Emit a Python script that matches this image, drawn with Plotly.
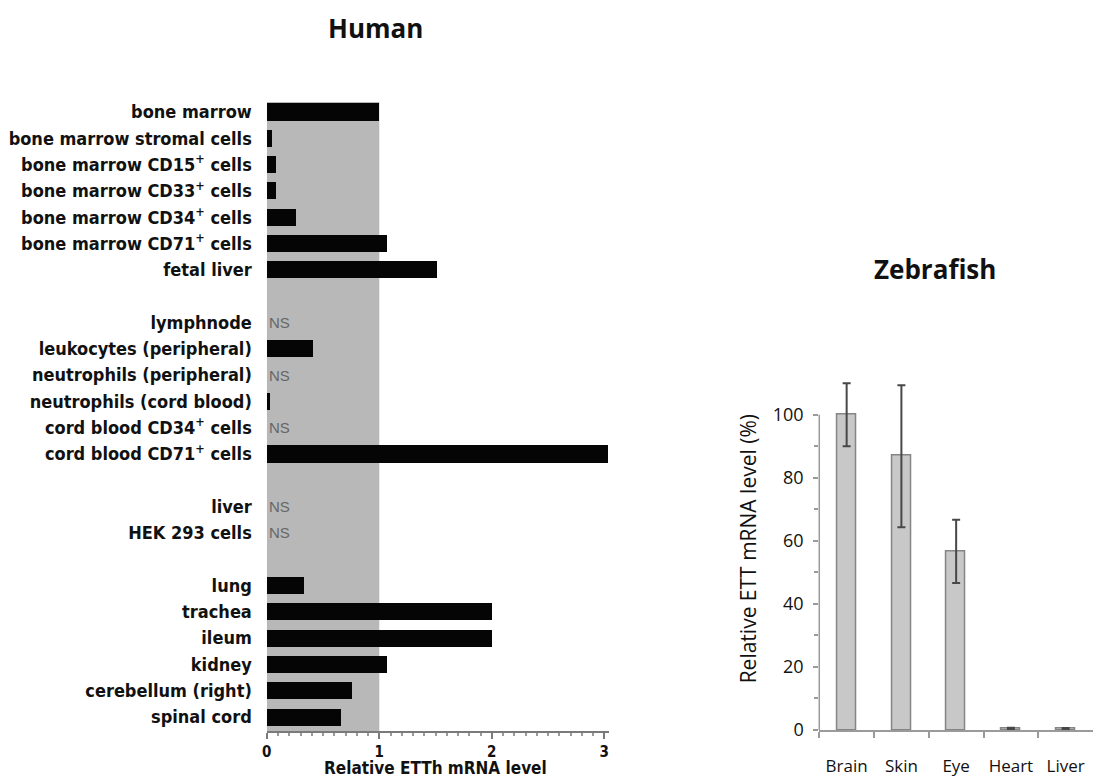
import plotly.graph_objects as go

# ---- Human tissue panel -------------------------------------------------
human_tissues = [
    "bone marrow",
    "bone marrow stromal cells",
    "bone marrow CD15<sup>+</sup> cells",
    "bone marrow CD33<sup>+</sup> cells",
    "bone marrow CD34<sup>+</sup> cells",
    "bone marrow CD71<sup>+</sup> cells",
    "fetal liver",
    "lymphnode",
    "leukocytes (peripheral)",
    "neutrophils (peripheral)",
    "neutrophils (cord blood)",
    "cord blood CD34<sup>+</sup> cells",
    "cord blood CD71<sup>+</sup> cells",
    "liver",
    "HEK 293 cells",
    "lung",
    "trachea",
    "ileum",
    "kidney",
    "cerebellum (right)",
    "spinal cord",
]
# None = not significant (labelled "NS")
human_levels = [
    1.00, 0.04, 0.08, 0.08, 0.26, 1.07, 1.51,
    None, 0.41, None, 0.03, None, 3.03,
    None, None,
    0.33, 2.00, 2.00, 1.07, 0.76, 0.66,
]
group_sizes = [7, 6, 2, 6]
human_xticks = [0, 1, 2, 3]

# ---- Zebrafish panel ----------------------------------------------------
fish_tissues = ["Brain", "Skin", "Eye", "Heart", "Liver"]
fish_levels = [100.0, 87.0, 56.7, 0.5, 0.4]
fish_err_plus = [10.0, 22.3, 10.0, 0.2, 0.2]
fish_err_minus = [10.0, 22.7, 10.1, 0.2, 0.2]
fish_yticks = [0, 20, 40, 60, 80, 100]

# row slots: one empty slot between groups
slots = []
pos = 0
for size in group_sizes:
    for _ in range(size):
        slots.append(pos)
        pos += 1
    pos += 1

# layout positions are given on a 1099 x 778 grid and converted to fractions
GRID_W, GRID_H = 1099, 778
W, H = 1099, 790

def fx(px):
    return px / GRID_W

def fy(py):
    return 1 - py / GRID_H

def px_x(a, b):
    return [fx(a), fx(b)]

def px_y(top, bottom):
    return [fy(bottom), fy(top)]

COND = "Liberation Sans Narrow, DejaVu Sans Condensed, Arial Narrow, sans-serif"
SANS = "Open Sans, Lato, sans-serif"

# human x axis: 113 px per unit starting at x=263
HX_MAX = 3.04

fig = go.Figure()

bar_y = [s for s, v in zip(slots, human_levels) if v is not None]
bar_x = [v for v in human_levels if v is not None]
fig.add_trace(go.Bar(
    x=bar_x, y=bar_y, orientation="h",
    marker=dict(color="#050505", line=dict(width=0)),
    width=0.65, xaxis="x", yaxis="y", showlegend=False,
    hoverinfo="x",
))

fig.add_trace(go.Bar(
    x=fish_tissues, y=fish_levels,
    marker=dict(color="#c8c8c8", line=dict(color="#858585", width=1.5)),
    width=0.35,
    error_y=dict(type="data", symmetric=False, array=fish_err_plus,
                 arrayminus=fish_err_minus, color="#474747",
                 thickness=2, width=4),
    xaxis="x2", yaxis="y2", showlegend=False,
))

annotations = []
for s, v in zip(slots, human_levels):
    if v is None:
        annotations.append(dict(
            x=0, y=s, xref="x", yref="y", text="NS", showarrow=False,
            xanchor="left", yanchor="middle", xshift=0,
            font=dict(family="Liberation Sans, Arial, sans-serif", size=15, color="#666666"),
        ))

annotations += [
    dict(x=fx(372), y=fy(27), xref="paper", yref="paper", text="<b>Human</b>",
         showarrow=False, xanchor="center", yanchor="middle",
         font=dict(family=SANS, size=26, color="#111111")),
    dict(x=fx(934), y=fy(268), xref="paper", yref="paper", text="<b>Zebrafish</b>",
         showarrow=False, xanchor="center", yanchor="middle",
         font=dict(family=SANS, size=26, color="#111111")),
    # x-axis title of the human panel
    dict(x=fx(432), y=fy(767), xref="paper", yref="paper",
         text="<b>Relative ETTh mRNA level</b>", showarrow=False,
         xanchor="center", yanchor="middle", borderpad=0,
         font=dict(family=COND, size=17, color="#111111")),
]

shapes = [
    # shaded reference region 0..1 behind the human bars
    dict(type="rect", xref="x", yref="y domain", x0=0, x1=1, y0=0, y1=1,
         fillcolor="#b8b8b8", line=dict(width=0), layer="below"),
    # zebrafish y axis line, drawn up to 100 only
    dict(type="line", xref="x2 domain", yref="y2", x0=0, x1=0, y0=0, y1=100,
         line=dict(color="#9a9a9a", width=1.5)),
]

fig.update_layout(
    width=W, height=H,
    margin=dict(l=0, r=0, t=0, b=0),
    paper_bgcolor="white", plot_bgcolor="rgba(0,0,0,0)",
    bargap=0,
    annotations=annotations,
    shapes=shapes,
    xaxis=dict(
        domain=px_x(263, 263 + 113 * HX_MAX), anchor="y", range=[0, HX_MAX],
        tickvals=human_xticks, ticktext=[f"<b>{v}</b>" for v in human_xticks],
        ticks="outside", ticklen=6, tickwidth=1.5,
        tickcolor="#7a7a7a", showline=True, linecolor="#7a7a7a", linewidth=1.5,
        showgrid=False, zeroline=False,
        minor=dict(dtick=0.1, ticks="outside", ticklen=3, tickcolor="#9a9a9a", showgrid=False),
        tickfont=dict(family=COND, size=15, color="#111111"),
    ),
    yaxis=dict(
        domain=px_y(101, 730), anchor="x", range=[23.53, -0.38],
        tickvals=slots, ticktext=[f"<b>{t}</b>" for t in human_tissues],
        ticks="", showline=False, showgrid=False, zeroline=False,
        ticklabelstandoff=14,
        tickfont=dict(family=COND, size=18, color="#111111"),
    ),
    xaxis2=dict(
        domain=px_x(818, 1093), anchor="y2", range=[-0.5, 4.5],
        showline=True, linecolor="#9a9a9a", linewidth=1.5,
        ticks="outside", showgrid=False, zeroline=False,
        tickson="boundaries", ticklen=6, tickwidth=1.5, tickcolor="#9a9a9a",
        tickangle=0, ticklabelstandoff=20,
        tickfont=dict(family=SANS, size=17, color="#111111"),
    ),
    yaxis2=dict(
        domain=px_y(366.4, 729), anchor="x2", range=[0, 115],
        tickvals=fish_yticks, ticks="outside", ticklen=5,
        tickwidth=1.5, tickcolor="#9a9a9a",
        minor=dict(tickvals=[10, 30, 50, 70, 90], ticks="outside", ticklen=4,
                   tickcolor="#9a9a9a"),
        showline=False, showgrid=False, zeroline=False,
        ticklabelstandoff=6,
        tickfont=dict(family=SANS, size=18, color="#111111"),
        title=dict(text="Relative ETT mRNA level (%)", standoff=10,
                   font=dict(family=SANS, size=21, color="#111111")),
    ),
)

# let the figure sit flush against the page edges
fig.write_html(
    "out.html",
    post_script=(
        "document.body.style.margin='0';"
        "document.body.style.overflow='hidden';"
        "document.documentElement.style.overflow='hidden';"
    ),
)
